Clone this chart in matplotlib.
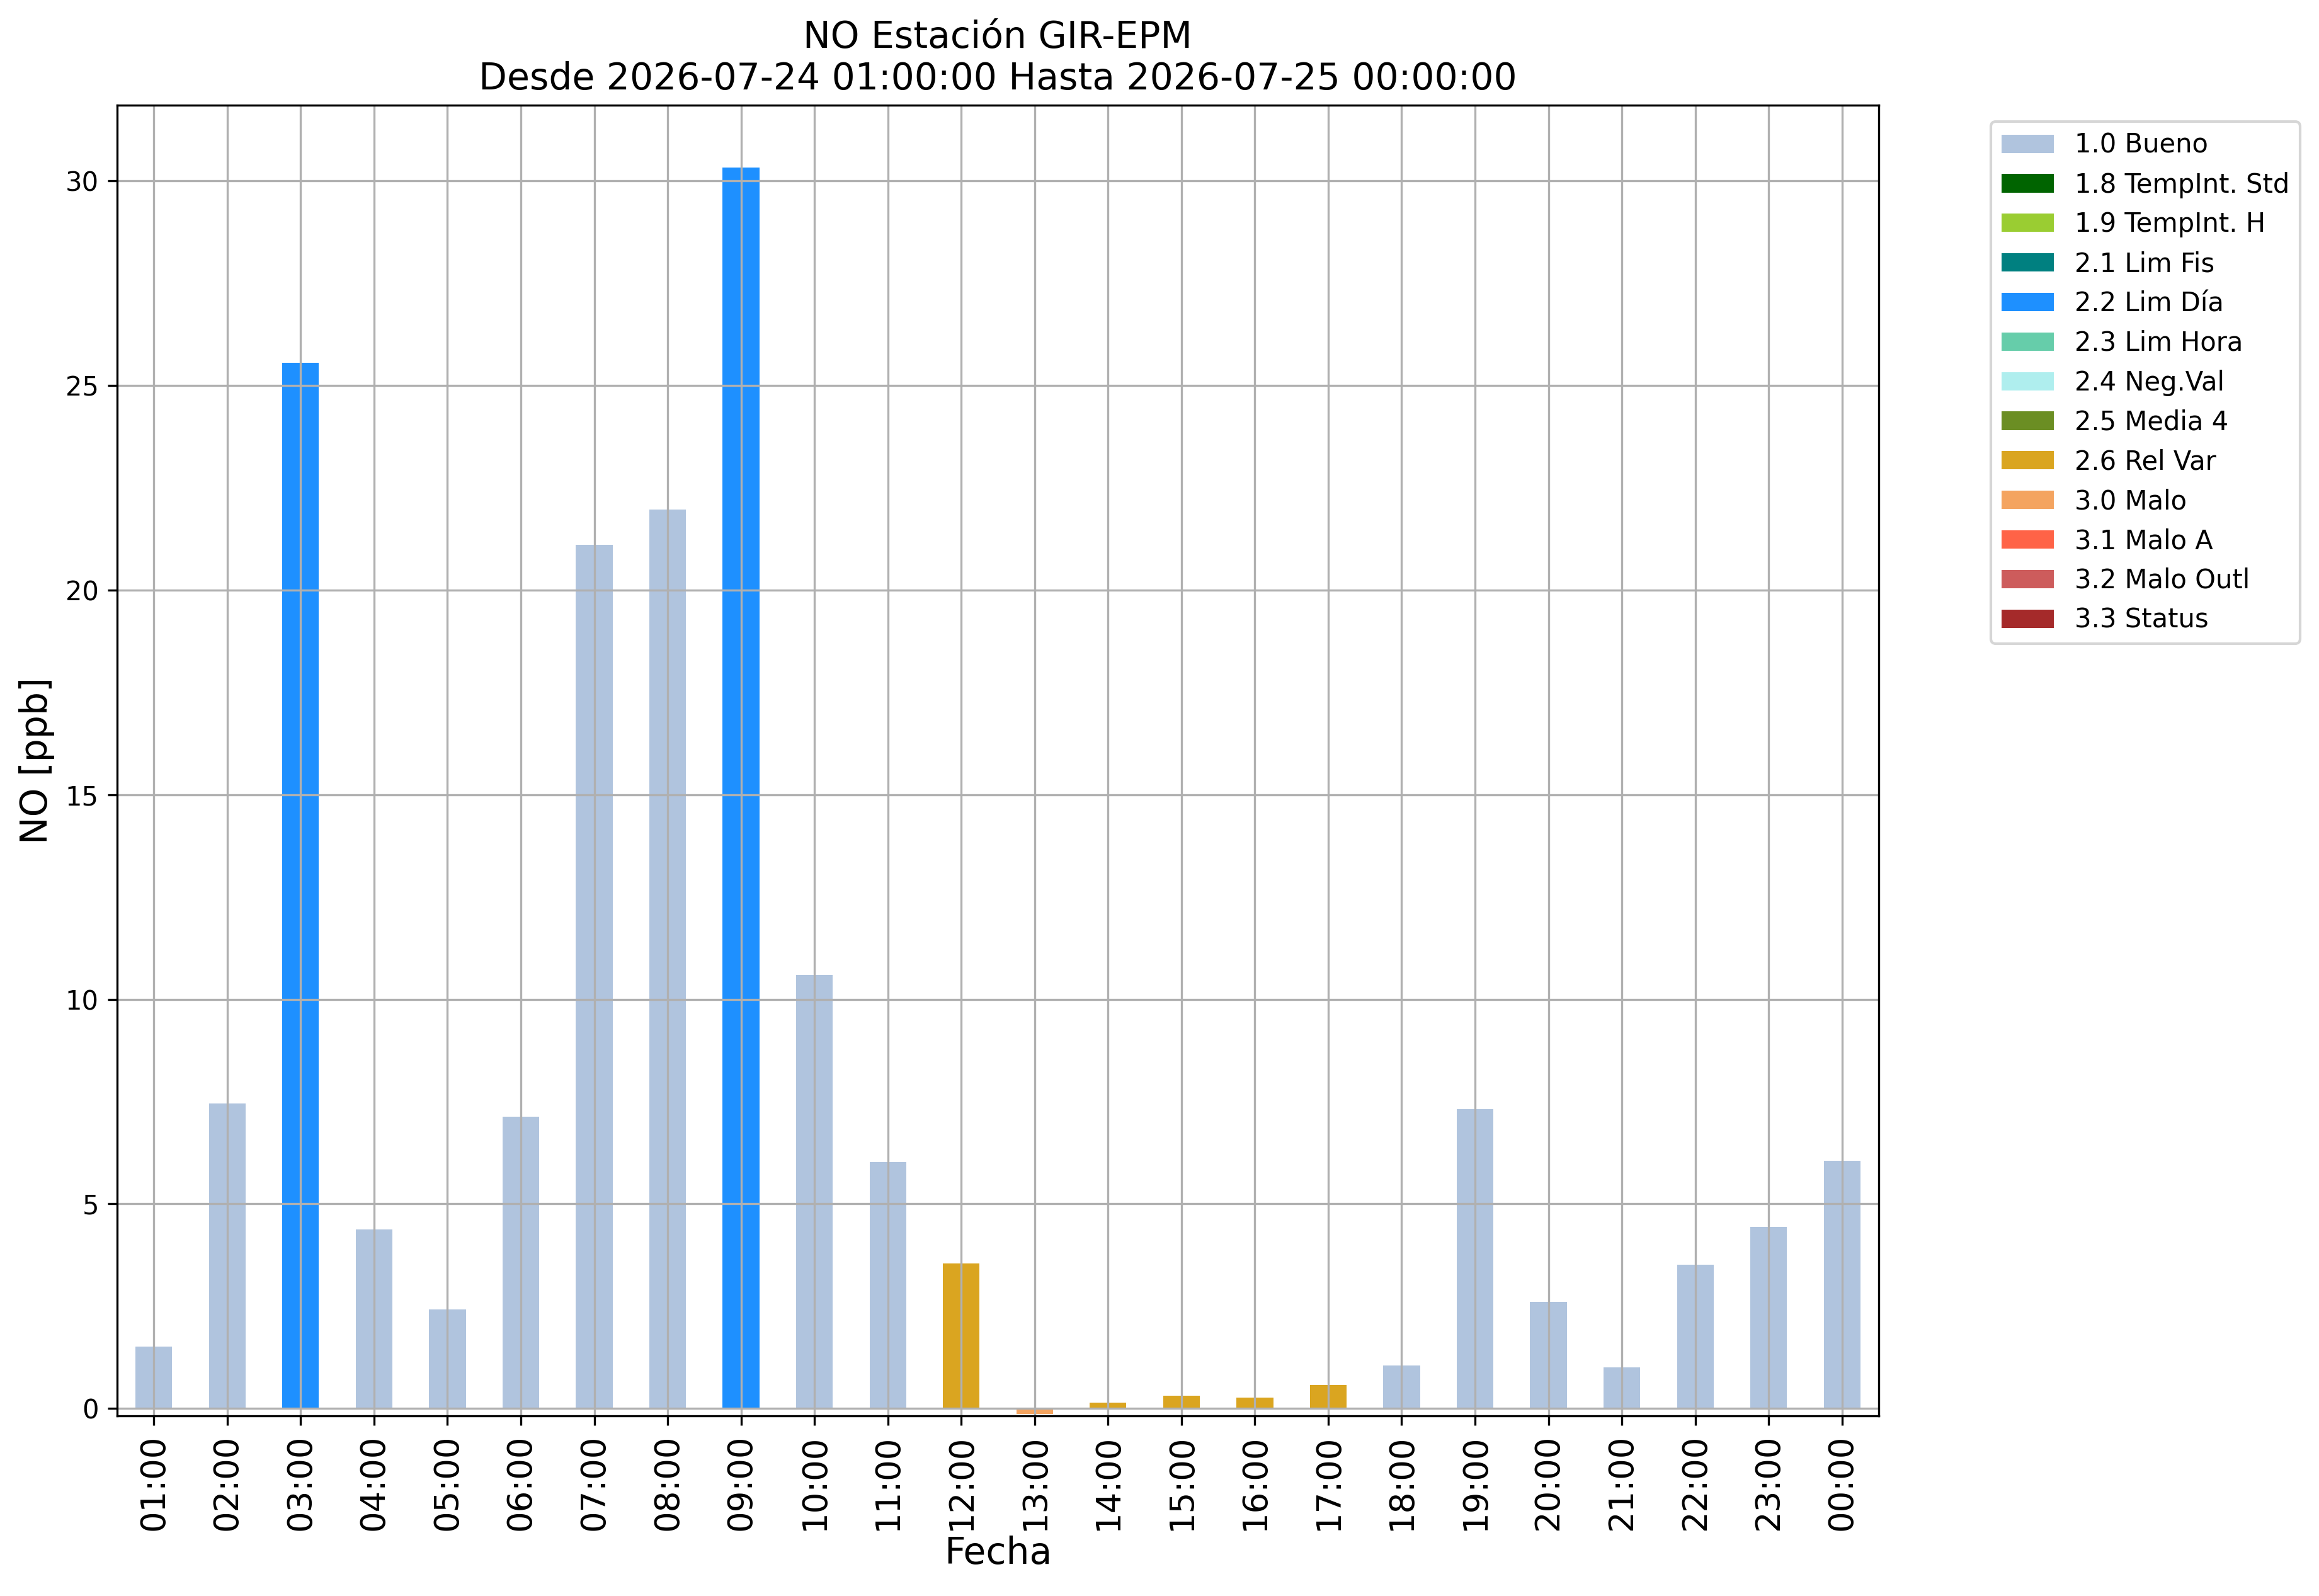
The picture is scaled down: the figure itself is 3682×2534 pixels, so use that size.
import matplotlib
matplotlib.use("Agg")
import matplotlib.pyplot as plt
from matplotlib.patches import Patch

hours = ["01:00", "02:00", "03:00", "04:00", "05:00", "06:00", "07:00", "08:00",
         "09:00", "10:00", "11:00", "12:00", "13:00", "14:00", "15:00", "16:00",
         "17:00", "18:00", "19:00", "20:00", "21:00", "22:00", "23:00", "00:00"]
values = [1.52, 7.46, 25.55, 4.38, 2.42, 7.13, 21.1, 21.97,
          30.33, 10.6, 6.02, 3.55, -0.13, 0.15, 0.31, 0.26,
          0.57, 1.05, 7.31, 2.6, 1.01, 3.51, 4.43, 6.05]
flags = ["1.0", "1.0", "2.2", "1.0", "1.0", "1.0", "1.0", "1.0",
         "2.2", "1.0", "1.0", "2.6", "3.0", "2.6", "2.6", "2.6",
         "2.6", "1.0", "1.0", "1.0", "1.0", "1.0", "1.0", "1.0"]

flag_codes = ["1.0", "1.8", "1.9", "2.1", "2.2", "2.3", "2.4", "2.5", "2.6",
              "3.0", "3.1", "3.2", "3.3"]
flag_names = ["1.0 Bueno", "1.8 TempInt. Std", "1.9 TempInt. H", "2.1 Lim Fis",
              "2.2 Lim Día", "2.3 Lim Hora", "2.4 Neg.Val", "2.5 Media 4",
              "2.6 Rel Var", "3.0 Malo", "3.1 Malo A", "3.2 Malo Outl", "3.3 Status"]
flag_colors = ["lightsteelblue", "darkgreen", "yellowgreen", "teal", "dodgerblue",
               "mediumaquamarine", "paleturquoise", "olivedrab", "goldenrod",
               "sandybrown", "tomato", "indianred", "brown"]
color_of = dict(zip(flag_codes, flag_colors))

W, H = 3682, 2534
dpi = 300
fig = plt.figure(figsize=(W / dpi, H / dpi), dpi=dpi)
ax = fig.add_axes([186 / W, 1 - 2248 / H, (2983 - 186) / W, (2248 - 167) / H])

x = list(range(len(hours)))
ax.bar(x, values, width=0.5, color=[color_of[f] for f in flags])
ax.set_xlim(-0.5, len(hours) - 0.5)
ax.set_ylim(-0.18, 31.85)
ax.set_xticks(x)
ax.set_xticklabels(hours, rotation=90, fontsize=12.7)
ax.tick_params(axis="y", labelsize=10)
ax.grid(True)
ax.set_xlabel("Fecha", fontsize=14, labelpad=2)
ax.set_ylabel("NO [ppb]", fontsize=14)
ax.set_title("NO Estación GIR-EPM\nDesde 2026-07-24 01:00:00 Hasta 2026-07-25 00:00:00",
             fontsize=14)

handles = [Patch(facecolor=c, label=n) for c, n in zip(flag_colors, flag_names)]
fig.legend(handles=handles, loc="upper left",
           bbox_to_anchor=(3161 / W, 1 - 193 / H), borderaxespad=0, fontsize=10)

fig.savefig("out.png", dpi=dpi)
